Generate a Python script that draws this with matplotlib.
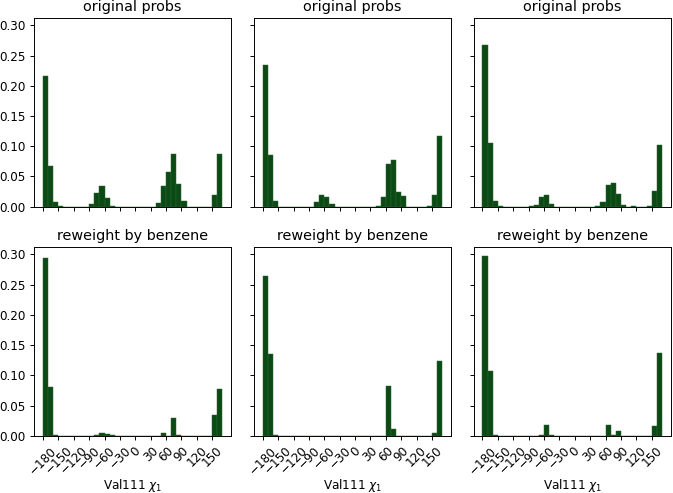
import numpy as np
import matplotlib
matplotlib.use("Agg")
import matplotlib.pyplot as plt

# 10 degree bins, left edges from -180 to 160
bin_edges = np.arange(-180, 170, 10)
xticks = np.arange(-180, 180, 30)
titles = ["original probs", "reweight by benzene"]

orig_1 = [0.217, 0.068, 0.008, 0.002, 0, 0, 0, 0, 0, 0.004, 0.022, 0.035, 0.015, 0.002,
          0, 0, 0, 0, 0, 0, 0, 0, 0.0055, 0.034, 0.058, 0.087, 0.037, 0.009,
          0, 0, 0, 0, 0, 0.019, 0.087]
orig_2 = [0.234, 0.085, 0.009, 0, 0, 0, 0, 0, 0, 0, 0.008, 0.019, 0.016, 0.004,
          0, 0, 0, 0, 0, 0, 0, 0, 0.001, 0.016, 0.070, 0.0775, 0.024, 0.017,
          0, 0, 0, 0, 0.002, 0.020, 0.117]
orig_3 = [0.268, 0.105, 0.010, 0.0017, 0, 0, 0, 0, 0, 0.001, 0.003, 0.016, 0.019, 0.005,
          0, 0, 0, 0, 0, 0, 0, 0, 0.001, 0.008, 0.0365, 0.040, 0.0205, 0.003,
          0, 0.002, 0, 0, 0.001, 0.0255, 0.102]
rew_1 = [0.2945, 0.081, 0.0017, 0, 0, 0, 0, 0, 0, 0, 0.001, 0.004, 0.003, 0.0015,
         0, 0, 0, 0, 0, 0, 0, 0, 0, 0.0044, 0, 0.029, 0.0017,
         0, 0, 0, 0, 0, 0, 0.035, 0.078]
rew_2 = [0.265, 0.1357, 0.0017, 0, 0, 0, 0, 0, 0, 0, 0, 0.0005,
         0, 0, 0, 0, 0, 0, 0, 0, 0, 0, 0, 0.0005, 0.0816, 0.011,
         0, 0, 0, 0, 0, 0, 0.0005, 0.0044, 0.1236]
rew_3 = [0.297, 0.107, 0.002, 0.0005, 0, 0, 0, 0, 0, 0, 0, 0.001, 0.018, 0.002,
         0, 0, 0, 0, 0, 0, 0, 0, 0, 0, 0.0176, 0.002, 0.0077,
         0, 0, 0, 0, 0, 0, 0.0165, 0.137]

rows = [[orig_1, orig_2, orig_3], [rew_1, rew_2, rew_3]]

dpi = 86.6
fig, axes = plt.subplots(2, 3, figsize=(673 / dpi, 493 / dpi), dpi=dpi, sharex=True, sharey=True)
fig.subplots_adjust(left=0.0505, right=0.997, top=0.963, bottom=0.116, wspace=0.113, hspace=0.2155)

for i in range(2):
    for j in range(3):
        ax = axes[i, j]
        ax.bar(bin_edges, rows[i][j], width=10, align="edge",
               color="#0b4a14", edgecolor="#2f6534", linewidth=0.4)
        ax.set_title(titles[i])
        if i == 1:
            ax.set_xticks(xticks)
            ax.tick_params(axis="x", labelrotation=45)
            ax.set_xlabel(r"Val111 $\chi_1$", labelpad=0)

fig.savefig("out.png", dpi=dpi)
